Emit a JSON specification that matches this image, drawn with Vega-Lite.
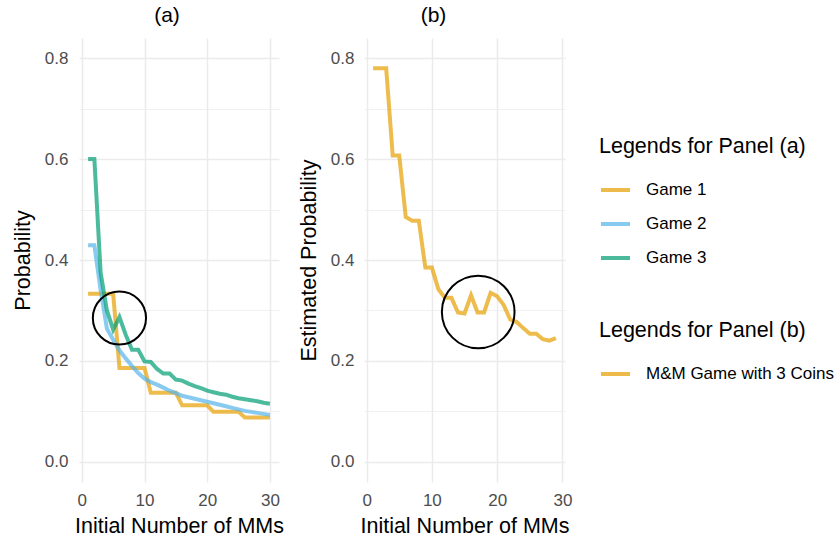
{
  "$schema": "https://vega.github.io/schema/vega-lite/v6.json",
  "padding": {"left": 12, "top": 5, "right": 0, "bottom": 0},
  "background": "white",
  "config": {
    "font": "Liberation Sans",
    "view": {"stroke": null},
    "axis": {"domain": false, "ticks": false, "labelFontSize": 17, "labelColor": "#4D4D4D", "titleFontSize": 21.5, "titleFontWeight": "normal", "titleColor": "#000000", "gridColor": "#EBEBEB", "labelPadding": 10},
    "title": {"fontSize": 21, "fontWeight": "normal", "color": "#000000"},
    "legend": {"labelLimit": 400, "titleLimit": 400}
  },
  "spacing": 85,
  "bounds": "flush",
  "resolve": {"scale": {"color": "independent"}},
  "hconcat": [
    {
      "width": 200,
      "height": 444,
      "title": {"text": "(a)", "frame": "group", "anchor": "middle", "dx": -12, "offset": 12, "fontSize": 21, "fontWeight": "normal", "color": "#000000"},
      "layer": [
        {
          "data": {"values": [
            {"n":1,"p":0.333,"game":"Game 1"},{"n":2,"p":0.333,"game":"Game 1"},{"n":3,"p":0.333,"game":"Game 1"},{"n":4,"p":0.333,"game":"Game 1"},{"n":5,"p":0.333,"game":"Game 1"},
            {"n":6,"p":0.186,"game":"Game 1"},{"n":7,"p":0.186,"game":"Game 1"},{"n":8,"p":0.186,"game":"Game 1"},{"n":9,"p":0.186,"game":"Game 1"},{"n":10,"p":0.186,"game":"Game 1"},
            {"n":11,"p":0.137,"game":"Game 1"},{"n":12,"p":0.137,"game":"Game 1"},{"n":13,"p":0.137,"game":"Game 1"},{"n":14,"p":0.137,"game":"Game 1"},{"n":15,"p":0.137,"game":"Game 1"},
            {"n":16,"p":0.112,"game":"Game 1"},{"n":17,"p":0.112,"game":"Game 1"},{"n":18,"p":0.112,"game":"Game 1"},{"n":19,"p":0.112,"game":"Game 1"},{"n":20,"p":0.112,"game":"Game 1"},
            {"n":21,"p":0.099,"game":"Game 1"},{"n":22,"p":0.099,"game":"Game 1"},{"n":23,"p":0.099,"game":"Game 1"},{"n":24,"p":0.099,"game":"Game 1"},{"n":25,"p":0.099,"game":"Game 1"},
            {"n":26,"p":0.088,"game":"Game 1"},{"n":27,"p":0.088,"game":"Game 1"},{"n":28,"p":0.088,"game":"Game 1"},{"n":29,"p":0.088,"game":"Game 1"},{"n":30,"p":0.088,"game":"Game 1"},
            {"n":1,"p":0.429,"game":"Game 2"},{"n":2,"p":0.429,"game":"Game 2"},{"n":3,"p":0.34,"game":"Game 2"},{"n":4,"p":0.264,"game":"Game 2"},{"n":5,"p":0.242,"game":"Game 2"},
            {"n":6,"p":0.221,"game":"Game 2"},{"n":7,"p":0.205,"game":"Game 2"},{"n":8,"p":0.19,"game":"Game 2"},{"n":9,"p":0.176,"game":"Game 2"},{"n":10,"p":0.165,"game":"Game 2"},
            {"n":11,"p":0.158,"game":"Game 2"},{"n":12,"p":0.153,"game":"Game 2"},{"n":13,"p":0.147,"game":"Game 2"},{"n":14,"p":0.141,"game":"Game 2"},{"n":15,"p":0.136,"game":"Game 2"},
            {"n":16,"p":0.131,"game":"Game 2"},{"n":17,"p":0.128,"game":"Game 2"},{"n":18,"p":0.125,"game":"Game 2"},{"n":19,"p":0.122,"game":"Game 2"},{"n":20,"p":0.119,"game":"Game 2"},
            {"n":21,"p":0.116,"game":"Game 2"},{"n":22,"p":0.113,"game":"Game 2"},{"n":23,"p":0.11,"game":"Game 2"},{"n":24,"p":0.107,"game":"Game 2"},{"n":25,"p":0.104,"game":"Game 2"},
            {"n":26,"p":0.101,"game":"Game 2"},{"n":27,"p":0.099,"game":"Game 2"},{"n":28,"p":0.097,"game":"Game 2"},{"n":29,"p":0.095,"game":"Game 2"},{"n":30,"p":0.093,"game":"Game 2"},
            {"n":1,"p":0.6,"game":"Game 3"},{"n":2,"p":0.6,"game":"Game 3"},{"n":3,"p":0.375,"game":"Game 3"},{"n":4,"p":0.3,"game":"Game 3"},{"n":5,"p":0.262,"game":"Game 3"},
            {"n":6,"p":0.287,"game":"Game 3"},{"n":7,"p":0.252,"game":"Game 3"},{"n":8,"p":0.222,"game":"Game 3"},{"n":9,"p":0.222,"game":"Game 3"},{"n":10,"p":0.199,"game":"Game 3"},
            {"n":11,"p":0.198,"game":"Game 3"},{"n":12,"p":0.184,"game":"Game 3"},{"n":13,"p":0.175,"game":"Game 3"},{"n":14,"p":0.175,"game":"Game 3"},{"n":15,"p":0.163,"game":"Game 3"},
            {"n":16,"p":0.161,"game":"Game 3"},{"n":17,"p":0.155,"game":"Game 3"},{"n":18,"p":0.15,"game":"Game 3"},{"n":19,"p":0.146,"game":"Game 3"},{"n":20,"p":0.141,"game":"Game 3"},
            {"n":21,"p":0.138,"game":"Game 3"},{"n":22,"p":0.135,"game":"Game 3"},{"n":23,"p":0.133,"game":"Game 3"},{"n":24,"p":0.129,"game":"Game 3"},{"n":25,"p":0.126,"game":"Game 3"},
            {"n":26,"p":0.124,"game":"Game 3"},{"n":27,"p":0.122,"game":"Game 3"},{"n":28,"p":0.12,"game":"Game 3"},{"n":29,"p":0.117,"game":"Game 3"},{"n":30,"p":0.115,"game":"Game 3"}
          ]},
          "mark": {"type": "line", "strokeWidth": 4, "strokeOpacity": 0.7, "strokeCap": "butt"},
          "encoding": {
            "x": {"field": "n", "type": "quantitative", "scale": {"domain": [-0.45, 31.45], "nice": false, "zero": false},
                  "axis": {"title": "Initial Number of MMs", "values": [0,5,10,15,20,25,30], "labelExpr": "datum.value % 10 === 0 ? datum.label : ''", "gridWidth": {"condition": {"test": "datum.value % 10 === 0", "value": 1.5}, "value": 0.75}, "labelPadding": 10, "titlePadding": 7}},
            "y": {"field": "p", "type": "quantitative", "scale": {"domain": [-0.04, 0.84], "nice": false, "zero": false},
                  "axis": {"title": "Probability", "values": [0,0.1,0.2,0.3,0.4,0.5,0.6,0.7,0.8], "format": ".1f", "labelExpr": "round(datum.value*10) % 2 === 0 ? datum.label : ''", "gridWidth": {"condition": {"test": "round(datum.value*10) % 2 === 0", "value": 1.5}, "value": 0.75}, "labelPadding": 11, "titlePadding": 10}},
            "color": {"field": "game", "type": "nominal", "scale": {"domain": ["Game 1", "Game 2", "Game 3"], "range": ["#E69F00", "#56B4E9", "#009E73"]},
                      "legend": {"title": "Legends for Panel (a)", "orient": "none", "legendX": 520, "legendY": 98, "titleFontSize": 21.5, "titleFontWeight": "normal", "titleColor": "#000000", "labelFontSize": 17, "labelColor": "#000000", "symbolType": "stroke", "symbolSize": 841, "symbolStrokeWidth": 4, "symbolOpacity": 0.7, "rowPadding": 9, "titlePadding": 16, "labelOffset": 14}}
          }
        },
        {
          "data": {"values": [{"n": 6, "p": 0.285}]},
          "mark": {"type": "point", "shape": "circle", "size": 2830, "filled": false, "stroke": "#000000", "strokeWidth": 2, "opacity": 1},
          "encoding": {
            "x": {"field": "n", "type": "quantitative"},
            "y": {"field": "p", "type": "quantitative"}
          }
        }
      ]
    },
    {
      "width": 201,
      "height": 444,
      "title": {"text": "(b)", "frame": "group", "anchor": "middle", "dx": -31, "offset": 12, "fontSize": 21, "fontWeight": "normal", "color": "#000000"},
      "layer": [
        {
          "data": {"values": [
            {"n":1,"p":0.78,"game":"M&M Game with 3 Coins"},{"n":2,"p":0.78,"game":"M&M Game with 3 Coins"},{"n":3,"p":0.78,"game":"M&M Game with 3 Coins"},
            {"n":4,"p":0.607,"game":"M&M Game with 3 Coins"},{"n":5,"p":0.607,"game":"M&M Game with 3 Coins"},{"n":6,"p":0.485,"game":"M&M Game with 3 Coins"},
            {"n":7,"p":0.478,"game":"M&M Game with 3 Coins"},{"n":8,"p":0.478,"game":"M&M Game with 3 Coins"},{"n":9,"p":0.385,"game":"M&M Game with 3 Coins"},
            {"n":10,"p":0.385,"game":"M&M Game with 3 Coins"},{"n":11,"p":0.342,"game":"M&M Game with 3 Coins"},{"n":12,"p":0.325,"game":"M&M Game with 3 Coins"},
            {"n":13,"p":0.325,"game":"M&M Game with 3 Coins"},{"n":14,"p":0.296,"game":"M&M Game with 3 Coins"},{"n":15,"p":0.294,"game":"M&M Game with 3 Coins"},
            {"n":16,"p":0.33,"game":"M&M Game with 3 Coins"},{"n":17,"p":0.296,"game":"M&M Game with 3 Coins"},{"n":18,"p":0.296,"game":"M&M Game with 3 Coins"},
            {"n":19,"p":0.335,"game":"M&M Game with 3 Coins"},{"n":20,"p":0.328,"game":"M&M Game with 3 Coins"},{"n":21,"p":0.311,"game":"M&M Game with 3 Coins"},
            {"n":22,"p":0.282,"game":"M&M Game with 3 Coins"},{"n":23,"p":0.277,"game":"M&M Game with 3 Coins"},{"n":24,"p":0.265,"game":"M&M Game with 3 Coins"},
            {"n":25,"p":0.254,"game":"M&M Game with 3 Coins"},{"n":26,"p":0.254,"game":"M&M Game with 3 Coins"},{"n":27,"p":0.243,"game":"M&M Game with 3 Coins"},
            {"n":28,"p":0.24,"game":"M&M Game with 3 Coins"},{"n":29,"p":0.245,"game":"M&M Game with 3 Coins"}
          ]},
          "mark": {"type": "line", "strokeWidth": 4, "strokeOpacity": 0.7, "strokeCap": "butt"},
          "encoding": {
            "x": {"field": "n", "type": "quantitative", "scale": {"domain": [-0.4, 30.4], "nice": false, "zero": false},
                  "axis": {"title": "Initial Number of MMs", "values": [0,5,10,15,20,25,30], "labelExpr": "datum.value % 10 === 0 ? datum.label : ''", "gridWidth": {"condition": {"test": "datum.value % 10 === 0", "value": 1.5}, "value": 0.75}, "labelPadding": 10, "titlePadding": 7}},
            "y": {"field": "p", "type": "quantitative", "scale": {"domain": [-0.04, 0.84], "nice": false, "zero": false},
                  "axis": {"title": "Estimated Probability", "values": [0,0.1,0.2,0.3,0.4,0.5,0.6,0.7,0.8], "format": ".1f", "labelExpr": "round(datum.value*10) % 2 === 0 ? datum.label : ''", "gridWidth": {"condition": {"test": "round(datum.value*10) % 2 === 0", "value": 1.5}, "value": 0.75}, "labelPadding": 10, "titlePadding": 10}},
            "color": {"field": "game", "type": "nominal", "scale": {"domain": ["M&M Game with 3 Coins"], "range": ["#E69F00"]},
                      "legend": {"title": "Legends for Panel (b)", "orient": "none", "legendX": 235, "legendY": 282, "titleFontSize": 21.5, "titleFontWeight": "normal", "titleColor": "#000000", "labelFontSize": 17, "labelColor": "#000000", "symbolType": "stroke", "symbolSize": 841, "symbolStrokeWidth": 4, "symbolOpacity": 0.7, "rowPadding": 9, "titlePadding": 16, "labelOffset": 14}}
          }
        },
        {
          "data": {"values": [{"n": 17.1, "p": 0.297}]},
          "mark": {"type": "point", "shape": "circle", "size": 5281, "filled": false, "stroke": "#000000", "strokeWidth": 2, "opacity": 1},
          "encoding": {
            "x": {"field": "n", "type": "quantitative"},
            "y": {"field": "p", "type": "quantitative"}
          }
        }
      ]
    }
  ]
}
